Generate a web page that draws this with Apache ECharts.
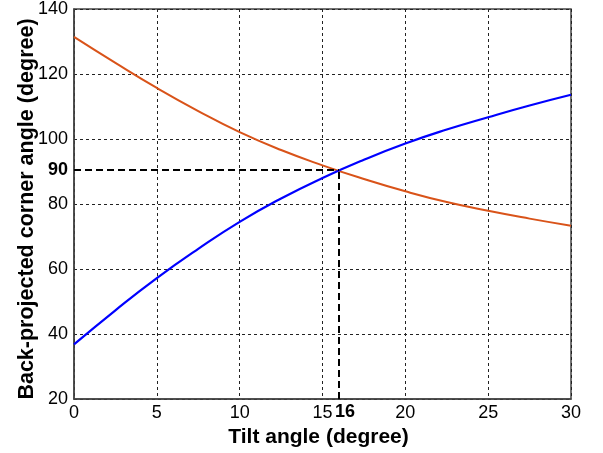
<!DOCTYPE html>
<html>
<head>
<meta charset="utf-8">
<script src="https://cdn.jsdelivr.net/npm/echarts@6/dist/echarts.min.js"></script>
<style>html,body{margin:0;padding:0;background:#fff;}#c{width:603px;height:453px;}</style>
</head>
<body>
<div id="c"></div>
<script>
var tiltAngles = [0, 2.5, 5, 7.5, 10, 12.5, 15, 17.5, 20, 22.5, 25, 27.5, 30];
var blueAngles = [36.8, 47.3, 57.2, 66.2, 74.5, 81.7, 88.0, 93.6, 98.6, 102.9, 106.7, 110.3, 113.6];
var orangeAngles = [131.4, 123.4, 115.7, 108.6, 102.1, 96.6, 91.9, 87.7, 83.9, 80.6, 77.9, 75.5, 73.3];
var crossX = 16;
var crossY = 90.5;
var crossXLabel = '16';
var crossYLabel = '90';
var xTitle = 'Tilt angle (degree)';
var yTitle = 'Back-projected corner angle (degree)';

var chart = echarts.init(document.getElementById('c'), null, {renderer: 'canvas'});
function zip(xs, ys) { return xs.map(function (x, i) { return [x, ys[i]]; }); }
var font = 'Liberation Sans, Arial, sans-serif';
var gridLine = {show: true, lineStyle: {color: '#222', type: [3, 3], width: 1}};
chart.setOption({
  animation: false,
  backgroundColor: '#fff',
  grid: {left: 74, top: 7, right: 32, bottom: 54, show: true, borderColor: '#444', borderWidth: 1.5, backgroundColor: 'transparent'},
  xAxis: {
    type: 'value', min: 0, max: 30, interval: 5,
    name: xTitle, nameLocation: 'middle', nameGap: 28, nameMoveOverlap: false,
    nameTextStyle: {fontFamily: font, fontSize: 21, fontWeight: 'bold', color: '#000', padding: [0, 8, 0, 0]},
    axisLine: {show: true, lineStyle: {color: '#444', width: 1.5}},
    axisTick: {show: false},
    axisLabel: {fontFamily: font, fontSize: 18, color: '#000', margin: 5},
    splitLine: gridLine
  },
  yAxis: {
    type: 'value', min: 20, max: 140, interval: 20,
    name: yTitle, nameLocation: 'middle', nameGap: 36, nameRotate: 90, nameMoveOverlap: false,
    nameTextStyle: {fontFamily: font, fontSize: 21.5, fontWeight: 'bold', color: '#000', padding: [0, 10, 0, 0]},
    axisLine: {show: true, lineStyle: {color: '#444', width: 1.5}},
    axisTick: {show: false},
    axisLabel: {fontFamily: font, fontSize: 18, color: '#000', margin: 6},
    splitLine: gridLine
  },
  series: [
    {
      type: 'line', data: zip(tiltAngles, orangeAngles), smooth: 0.5, showSymbol: false,
      lineStyle: {color: '#D95319', width: 2}, z: 3
    },
    {
      type: 'line', data: zip(tiltAngles, blueAngles), smooth: 0.5, showSymbol: false,
      lineStyle: {color: '#0000FF', width: 2.2}, z: 4,
      markLine: {
        silent: true, symbol: ['none', 'none'], animation: false,
        lineStyle: {color: '#000', type: [7, 4], width: 2},
        data: [
          [{coord: [0, crossY], label: {show: true, position: 'start', formatter: crossYLabel, fontFamily: font, fontSize: 18, fontWeight: 'bold', color: '#000', distance: 6}},
           {coord: [crossX, crossY]}],
          [{coord: [crossX, 20], label: {show: true, position: 'start', formatter: crossXLabel, fontFamily: font, fontSize: 18, fontWeight: 'bold', color: '#000', distance: 4, offset: [6, 0]}},
           {coord: [crossX, crossY]}]
        ]
      }
    }
  ]
});
</script>
</body>
</html>
